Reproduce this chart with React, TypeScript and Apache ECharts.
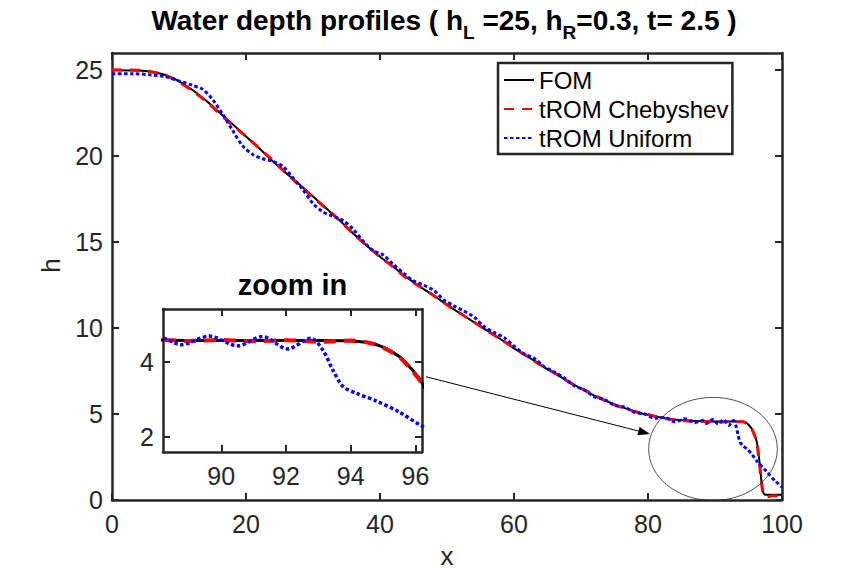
import React, { useEffect, useRef } from 'react';
import * as echarts from 'echarts';

// ---- data ----
const fomX = [0, 4, 6, 8, 10, 12, 14, 16, 18, 20, 22, 24, 26, 28, 30, 32, 34, 36, 38, 40, 42, 44, 46, 48, 50, 52, 54, 56, 58, 60, 62, 64, 66, 68, 70, 72, 74, 76, 78, 80, 82, 84, 86, 88, 90, 92, 93, 94, 94.8, 95.5, 95.8, 96.2, 96.5, 96.8, 97.1, 97.4, 98, 100];
const fomH = [25.0, 24.98, 24.9, 24.72, 24.35, 23.85, 23.25, 22.55, 21.85, 21.15, 20.45, 19.7, 19.0, 18.35, 17.65, 16.95, 16.25, 15.5, 14.8, 14.15, 13.55, 12.95, 12.4, 11.9, 11.35, 10.85, 10.35, 9.85, 9.35, 8.82, 8.35, 7.85, 7.38, 6.92, 6.48, 6.07, 5.72, 5.42, 5.15, 4.95, 4.8, 4.68, 4.62, 4.58, 4.56, 4.56, 4.56, 4.55, 4.45, 4.14, 3.88, 3.44, 2.7, 1.6, 0.6, 0.32, 0.3, 0.3];

const chebX = [0, 4, 6, 8, 10, 12, 14, 16, 18, 20, 22, 24, 26, 28, 30, 32, 34, 36, 38, 40, 42, 44, 46, 48, 50, 52, 54, 56, 58, 60, 62, 64, 66, 68, 70, 72, 74, 76, 78, 80, 82, 84, 86, 88.2, 89, 90, 91, 92, 93, 94, 94.8, 95.5, 95.8, 96.2, 96.5, 96.8, 97.1, 97.4, 97.8, 98.5, 100];
const chebH = [25.02, 25.0, 24.9, 24.7, 24.3, 23.8, 23.2, 22.5, 21.8, 21.15, 20.45, 19.75, 19.0, 18.3, 17.6, 16.95, 16.25, 15.5, 14.8, 14.15, 13.55, 12.9, 12.4, 11.9, 11.35, 10.85, 10.35, 9.85, 9.35, 8.85, 8.35, 7.85, 7.4, 6.9, 6.5, 6.1, 5.7, 5.4, 5.15, 4.97, 4.78, 4.66, 4.6, 4.58, 4.55, 4.58, 4.54, 4.57, 4.53, 4.56, 4.45, 4.12, 3.85, 3.4, 2.6, 1.5, 0.55, 0.22, 0.17, 0.25, 0.2];

const unifX = [0, 3, 6, 8, 10, 12, 13.5, 15, 16.5, 18, 19.5, 21, 22.5, 24, 25.5, 27, 28.5, 30, 31.5, 33, 34.5, 36, 37.5, 39, 40.5, 42, 43.5, 45, 46.5, 48, 49.5, 51, 52.5, 54, 55.5, 57, 58.5, 60, 61.5, 63, 64.5, 66, 67.5, 69, 70.5, 72, 73.5, 75, 76.5, 78, 79.5, 81, 82.5, 84, 85.5, 87, 88.2, 88.75, 89.63, 90.5, 91.27, 92.05, 92.77, 93.13, 93.44, 93.75, 94.17, 94.78, 95.5, 96.18, 97.7, 99, 100];
const unifH = [24.8, 24.8, 24.72, 24.62, 24.38, 24.12, 23.9, 23.3, 22.45, 21.5, 20.6, 20.1, 19.85, 19.7, 19.4, 18.75, 18.05, 17.25, 16.75, 16.5, 16.25, 15.75, 15.05, 14.5, 14.25, 13.7, 13.2, 12.75, 12.5, 12.2, 11.65, 11.3, 11.0, 10.65, 10.1, 9.75, 9.45, 8.95, 8.5, 8.25, 7.75, 7.45, 7.1, 6.65, 6.4, 6.0, 5.85, 5.5, 5.4, 5.1, 5.0, 4.75, 4.8, 4.55, 4.72, 4.5, 4.62, 4.45, 4.68, 4.42, 4.67, 4.34, 4.62, 4.32, 3.79, 3.35, 3.16, 2.96, 2.66, 2.3, 1.65, 1.1, 0.75];

const mainXTicks = [0, 20, 40, 60, 80, 100];
const mainYTicks = [0, 5, 10, 15, 20, 25];
const insetXTicks = [90, 92, 94, 96];
const insetYTicks = [2, 4];

const seriesNames = ['FOM', 'tROM Chebyshev', 'tROM Uniform'];

const FONT = '"Liberation Sans", Arial, Helvetica, sans-serif';
const AX = '#262626';

const pairs = (xs: number[], ys: number[]) => xs.map((x, i) => [x, ys[i]]);

function axis(kind: 'x' | 'y', gridIndex: number, position: string, min: number, max: number, ticks: number[], showLabels: boolean, extra: any = {}) {
  return {
    type: 'value',
    gridIndex,
    position,
    min,
    max,
    splitLine: { show: false },
    axisLine: { show: true, onZero: false, lineStyle: { color: AX, width: 2.5 } },
    axisTick: { show: true, inside: true, length: 7, customValues: ticks, lineStyle: { color: AX, width: 2 } },
    axisLabel: {
      show: showLabels,
      customValues: ticks,
      color: AX,
      fontSize: 25,
      fontFamily: FONT,
      margin: kind === 'x' ? 11 : 9,
      showMinLabel: true,
      showMaxLabel: true,
    },
    ...extra,
  };
}

export default function App() {
  const ref = useRef<HTMLDivElement>(null);
  useEffect(() => {
    const chart = echarts.init(ref.current as HTMLDivElement, null, { renderer: 'svg' });
    const fom = pairs(fomX, fomH);
    const cheb = pairs(chebX, chebH);
    const unif = pairs(unifX, unifH);

    const mk = (name: string, data: number[][], xi: number, yi: number, color: string, width: number, type: any, z: number) => ({
      name,
      type: 'line',
      xAxisIndex: xi,
      yAxisIndex: yi,
      data,
      symbol: 'none',
      showSymbol: false,
      smooth: 0.3,
      clip: true,
      z,
      lineStyle: { color, width, type },
      itemStyle: { color },
    });

    chart.setOption({
      animation: false,
      backgroundColor: '#ffffff',
      grid: [
        { left: 112, top: 53, width: 670, height: 447, show: false },
        { left: 163, top: 309, width: 259, height: 143, show: true, backgroundColor: '#ffffff', borderWidth: 0 },
      ],
      xAxis: [
        axis('x', 0, 'bottom', 0, 100, mainXTicks, true, {
          name: 'x', nameLocation: 'middle', nameGap: 43,
          nameTextStyle: { fontSize: 26, color: AX, fontFamily: FONT },
        }),
        axis('x', 0, 'top', 0, 100, mainXTicks, false),
        axis('x', 1, 'bottom', 88.2, 96.2, insetXTicks, true),
        axis('x', 1, 'top', 88.2, 96.2, insetXTicks, false),
      ],
      yAxis: [
        axis('y', 0, 'left', 0, 26, mainYTicks, true, {
          name: 'h', nameLocation: 'middle', nameGap: 44, nameRotate: 90,
          nameTextStyle: { fontSize: 26, color: AX, fontFamily: FONT, padding: [0, 0, 0, 22] },
        }),
        axis('y', 0, 'right', 0, 26, mainYTicks, false),
        axis('y', 1, 'left', 1.6, 5.4, insetYTicks, true),
        axis('y', 1, 'right', 1.6, 5.4, insetYTicks, false),
      ],
      legend: {
        data: seriesNames,
        orient: 'vertical',
        left: 498,
        top: 63,
        backgroundColor: '#ffffff',
        borderColor: AX,
        borderWidth: 2.5,
        borderRadius: 0,
        padding: [5, 4, 4, 5],
        itemWidth: 30,
        itemHeight: 14,
        itemGap: 5,
        selectedMode: false,
        itemStyle: { opacity: 0 },
        textStyle: { fontSize: 24, lineHeight: 24, color: '#000', fontFamily: FONT },
      },
      series: [
        mk(seriesNames[0], fom, 0, 0, '#000000', 2, 'solid', 3),
        mk(seriesNames[1], cheb, 0, 0, '#ff0000', 3, [10, 8], 4),
        mk(seriesNames[2], unif, 0, 0, '#0000ff', 3, [3.5, 2.5], 5),
        mk(seriesNames[0], fom, 2, 2, '#000000', 3, 'solid', 3),
        mk(seriesNames[1], cheb, 2, 2, '#ff0000', 4, [12, 8], 4),
        mk(seriesNames[2], unif, 2, 2, '#0000ff', 3.5, [3.5, 2.5], 5),
      ],
    });

    // annotations positioned through the axes' scales
    const pMain = (x: number, y: number) => chart.convertToPixel({ xAxisIndex: 0, yAxisIndex: 0 }, [x, y]) as number[];
    const pIn = (x: number, y: number) => chart.convertToPixel({ xAxisIndex: 2, yAxisIndex: 2 }, [x, y]) as number[];

    const c = pMain(89.7, 2.97);
    const ex = pMain(89.7 + 9.6, 2.97);
    const ey = pMain(89.7, 2.97 - 3.0);
    const rx = ex[0] - c[0];
    const ry = ey[1] - c[1];

    const s0 = pIn(96.2, 3.6);
    const start = [s0[0] + 4, s0[1]];
    const tip = pMain(80.2, 3.85);
    const dx = tip[0] - start[0];
    const dy = tip[1] - start[1];
    const len = Math.sqrt(dx * dx + dy * dy);
    const ux = dx / len, uy = dy / len;
    const hl = 11, hw = 4;
    const base = [tip[0] - ux * hl, tip[1] - uy * hl];
    const head = [
      [tip[0], tip[1]],
      [base[0] - uy * hw, base[1] + ux * hw],
      [base[0] + uy * hw, base[1] - ux * hw],
    ];

    const insetTopMid = pIn(92.2, 5.4);

    chart.setOption({
      graphic: [
        {
          type: 'text',
          x: 444,
          y: 20,
          z: 100,
          style: {
            text: '{b|Water depth profiles ( h}{s|L}{b| =25, h}{s|R}{b|=0.3, t= 2.5 )}',
            align: 'center',
            verticalAlign: 'middle',
            fill: '#000',
            rich: {
              b: { fontSize: 28, fontWeight: 'bold', fontFamily: FONT, lineHeight: 32, fill: '#000' },
              s: { fontSize: 19, fontWeight: 'bold', fontFamily: FONT, lineHeight: 19, padding: [24, 0, 0, 0], fill: '#000' },
            },
          },
        },
        {
          type: 'text',
          x: insetTopMid[0],
          y: insetTopMid[1] - 24,
          z: 100,
          style: {
            text: 'zoom in',
            align: 'center',
            verticalAlign: 'middle',
            fontSize: 29,
            fontWeight: 'bold',
            fontFamily: FONT,
            fill: '#000',
          },
        },
        {
          type: 'ellipse',
          z: 50,
          shape: { cx: c[0], cy: c[1], rx, ry },
          style: { fill: 'none', stroke: '#262626', lineWidth: 0.8 },
        },
        {
          type: 'line',
          z: 50,
          shape: { x1: start[0], y1: start[1], x2: base[0], y2: base[1] },
          style: { stroke: '#000', lineWidth: 1 },
        },
        {
          type: 'polygon',
          z: 50,
          shape: { points: head },
          style: { fill: '#000', stroke: '#000', lineWidth: 0.5 },
        },
      ],
    });

    return () => chart.dispose();
  }, []);
  return <div ref={ref} style={{ position: 'fixed', left: 0, top: 0, width: 864, height: 576 }} />;
}
